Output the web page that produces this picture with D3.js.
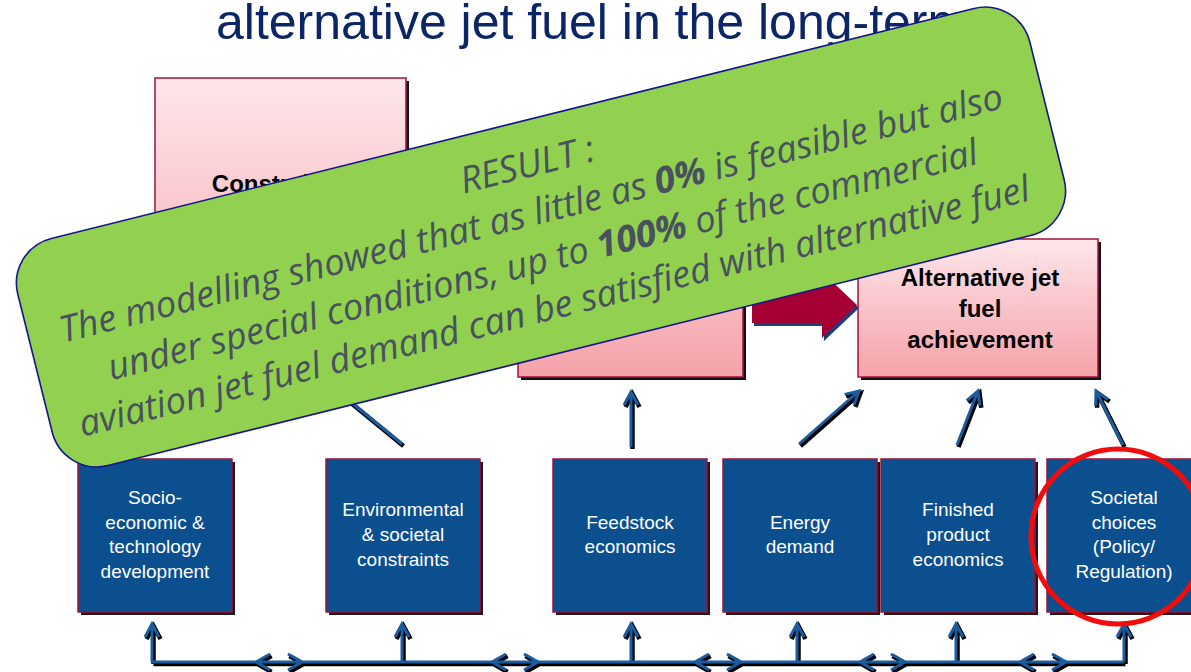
<!DOCTYPE html>
<html><head><meta charset="utf-8">
<script src="https://cdn.jsdelivr.net/npm/d3@7"></script>
<style>html,body{margin:0;padding:0;background:#fff;overflow:hidden}</style>
</head><body>
<svg id="c" width="1191" height="672"></svg>
<script>
// ---------- content ----------
const titleText = "alternative jet fuel in the long-term";
const driverLabels = [
  ["Socio-","economic &","technology","development"],
  ["Environmental","& societal","constraints"],
  ["Feedstock","economics"],
  ["Energy","demand"],
  ["Finished","product","economics"],
  ["Societal","choices","(Policy/","Regulation)"]
];
const outcomeLabels = [["Constraints"], [], ["Alternative jet","fuel","achievement"]];
const resultLines = [
  [{t:"RESULT :"}],
  [{t:"The modelling showed that as little as "},{t:"0%",b:true},{t:" is feasible but also"}],
  [{t:"under special conditions, up to "},{t:"100%",b:true},{t:" of the commercial"}],
  [{t:"aviation jet fuel demand can be satisfied with alternative fuel"}]
];

// ---------- layout ----------
const driverX = [78,326,553,723,881,1047];
const driverGeom = {y:459, w:154, h:153};
const outcomeGeom = [{x:155,y:78,w:251,h:302},{x:518,y:150,w:225,h:227},{x:858,y:239,w:240,h:138}];
const upArrows = [[402,444,330,385],[631,447,631,392],[799,444,859,391],[957,445,978,391],[1123,445,1096,391]];
const riserX = [152,402,631,797,956,1124];
const busY = 662, riserTop = 624;
const dblArrows = [[256,302],[492,538],[695,741],[860,905],[1020,1066]];
const banner = {cx:541, cy:237, w:1043, h:234, angle:-14, r:46};
const resultV = [-61,-13,35,83];
const resultU = [4,-4,-4,-4];
const resultTargets = [null,967,893,986];

const BLUE = "#0B4F8F", ARROW = "#1B5C9E", CRIM = "#A0123C";
const svg = d3.select("#c");
const defs = svg.append("defs");
const pg = defs.append("linearGradient").attr("id","pink").attr("x1",0).attr("y1",0).attr("x2",0).attr("y2",1);
pg.append("stop").attr("offset","0%").attr("stop-color","#FDE6EA");
pg.append("stop").attr("offset","100%").attr("stop-color","#F5A2A9");

// title
svg.append("text").attr("x",216).attr("y",39)
  .attr("font-family","'Liberation Sans', Arial, sans-serif").attr("font-size",50)
  .attr("fill","#0B2566").text(titleText);

// outcome (pink) boxes
const og = svg.append("g");
outcomeGeom.forEach((b,i)=>{
  og.append("rect").attr("x",b.x+3).attr("y",b.y+3).attr("width",b.w).attr("height",b.h).attr("fill","#111");
  og.append("rect").attr("x",b.x).attr("y",b.y).attr("width",b.w).attr("height",b.h)
    .attr("fill","url(#pink)").attr("stroke",CRIM).attr("stroke-width",1.5);
});
function lines(g, arr, cx, baseFirst, lh, attrs){
  arr.forEach((s,j)=>{
    const t = g.append("text").attr("x",cx).attr("y",baseFirst + j*lh).attr("text-anchor","middle").text(s);
    Object.entries(attrs).forEach(([k,v])=>t.attr(k,v));
  });
}
const boldAttrs = {"font-family":"'Liberation Sans', Arial, sans-serif","font-size":24,"font-weight":"bold","fill":"#000"};
lines(og, outcomeLabels[0], outcomeGeom[0].x+outcomeGeom[0].w/2-2, 192, 31, boldAttrs);
lines(og, outcomeLabels[2], outcomeGeom[2].x+outcomeGeom[2].w/2+2, 286, 31, boldAttrs);

// block arrow (dark red)
const blockPts = [[752,287],[822,287],[822,272],[857,305],[822,338],[822,323],[752,323]];
svg.append("polygon").attr("points",blockPts.map(p=>[p[0]+2,p[1]+3].join(",")).join(" ")).attr("fill","#1C3F78");
svg.append("polygon").attr("points",blockPts.map(p=>p.join(",")).join(" ")).attr("fill","#A50034");

// arrow helpers
function head(x2,y2,dx,dy,L,Wd){
  const len = Math.hypot(dx,dy), ux=dx/len, uy=dy/len, px=-uy, py=ux;
  return `M${x2-L*ux+Wd*px},${y2-L*uy+Wd*py}L${x2},${y2}L${x2-L*ux-Wd*px},${y2-L*uy-Wd*py}`;
}
function arrowPath(x1,y1,x2,y2){
  return `M${x1},${y1}L${x2},${y2}` + head(x2,y2,x2-x1,y2-y1,13,7);
}
function drawPath(d){
  svg.append("path").attr("d",d).attr("transform","translate(1.5,2)").attr("fill","none")
    .attr("stroke","#000").attr("stroke-width",4.5).attr("stroke-linejoin","miter");
  svg.append("path").attr("d",d).attr("fill","none")
    .attr("stroke",ARROW).attr("stroke-width",3).attr("stroke-linejoin","miter");
}
upArrows.forEach(a=>drawPath(arrowPath(a[0],a[1],a[2],a[3])));

// driver (blue) boxes
const dg = svg.append("g");
driverX.forEach((x,i)=>{
  const b = driverGeom;
  dg.append("rect").attr("x",x+3).attr("y",b.y+3).attr("width",b.w).attr("height",b.h).attr("fill","#1a1a1a");
  dg.append("rect").attr("x",x).attr("y",b.y).attr("width",b.w).attr("height",b.h)
    .attr("fill",BLUE).attr("stroke",CRIM).attr("stroke-width",1.5);
  const n = driverLabels[i].length, lh=24.7;
  const first = b.y + b.h/2 - (n-1)/2*lh + 5.5;
  lines(dg, driverLabels[i], x + b.w/2, first, lh,
    {"font-family":"'Liberation Sans', Arial, sans-serif","font-size":19,"fill":"#fff"});
});

// bottom bus
let bus = `M${riserX[0]},${busY}L${riserX[riserX.length-1]},${busY}`;
riserX.forEach(x=>{ bus += `M${x},${busY}L${x},${riserTop}` + head(x,riserTop,0,-1,13,7); });
dblArrows.forEach(([a,b])=>{ bus += head(a,busY,-1,0,14,8) + head(b,busY,1,0,14,8); });
drawPath(bus);

// result banner
const bg = svg.append("g").attr("transform",`translate(${banner.cx},${banner.cy}) rotate(${banner.angle})`);
bg.append("rect").attr("x",-banner.w/2).attr("y",-banner.h/2).attr("width",banner.w).attr("height",banner.h)
  .attr("rx",banner.r).attr("ry",banner.r).attr("fill","#92D050").attr("stroke","#16168A").attr("stroke-width",1.6);
const baseFs = 30;
const texts = resultLines.map((segs,i)=>{
  const t = bg.append("text").attr("x",resultU[i]).attr("y",resultV[i]).attr("text-anchor","middle")
    .attr("font-family","'Open Sans', 'Noto Sans', sans-serif").attr("font-style","italic")
    .attr("font-size",baseFs).attr("fill","#47525D");
  segs.forEach(s=>t.append("tspan").attr("font-weight",s.b?"bold":"normal").text(s.t));
  return t;
});
let ratios = [];
texts.forEach((t,i)=>{ if(resultTargets[i]) ratios.push(resultTargets[i]/t.node().getComputedTextLength()); });
const fs = baseFs * d3.mean(ratios);
texts.forEach(t=>t.attr("font-size",fs));

// red circle
svg.append("ellipse").attr("cx",1118).attr("cy",536.5).attr("rx",87).attr("ry",87.5)
  .attr("fill","none").attr("stroke","#F20D0D").attr("stroke-width",5);
</script>
</body></html>
